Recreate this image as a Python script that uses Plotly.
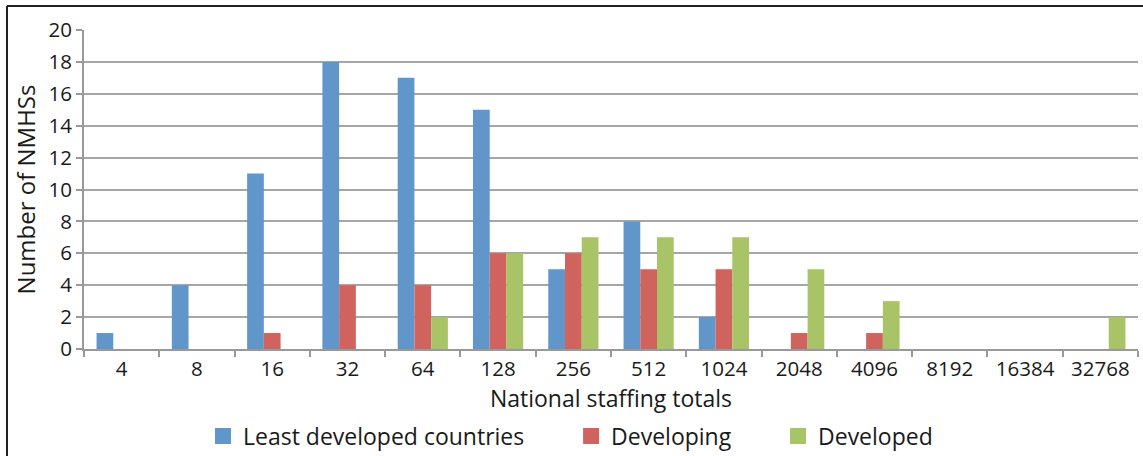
import plotly.graph_objects as go

categories = ["4", "8", "16", "32", "64", "128", "256", "512", "1024", "2048", "4096", "8192", "16384", "32768"]
least_developed = [1, 4, 11, 18, 17, 15, 5, 8, 2, 0, 0, 0, 0, 0]
developing = [0, 0, 1, 4, 4, 6, 6, 5, 5, 1, 1, 0, 0, 0]
developed = [0, 0, 0, 0, 2, 6, 7, 7, 7, 5, 3, 0, 0, 2]

series_names = ["Least developed countries", "Developing", "Developed"]
series_values = [least_developed, developing, developed]
series_colors = ["#6196CB", "#D0635E", "#A8C467"]

PAD = "\u00a0" * 7

fig = go.Figure()
for name, vals, col in zip(series_names, series_values, series_colors):
    fig.add_trace(go.Bar(x=categories, y=vals, name=name, showlegend=False,
                         marker=dict(color=col, line=dict(width=0))))
# legend entries (larger square swatches)
for i, (name, col) in enumerate(zip(series_names, series_colors)):
    label = name + (PAD if i < len(series_names) - 1 else "")
    fig.add_trace(go.Scatter(x=[None], y=[None], mode="markers", name=label,
                             marker=dict(symbol="square", size=22, color=col, line=dict(width=0))))

font_family = "Open Sans, Noto Sans, sans-serif"
L, R, T, B = 84, 5, 30, 107
W, H = 1143, 456
pw = W - L - R
ph = H - T - B

fig.update_layout(
    width=W, height=H,
    margin=dict(l=L, r=R, t=T, b=B, autoexpand=False),
    paper_bgcolor="white", plot_bgcolor="white",
    barmode="group", bargap=1/3, bargroupgap=0,
    font=dict(family=font_family, size=20, color="#1a1a1a"),
    xaxis=dict(
        type="category", automargin=False,
        title=dict(text="National staffing totals", font=dict(size=23), standoff=9),
        showline=True, linecolor="#999999", linewidth=2,
        ticks="outside", tickson="boundaries", ticklen=6, tickcolor="#999999", tickwidth=2,
        tickfont=dict(size=20.5),
        showgrid=False,
    ),
    yaxis=dict(
        range=[0, 20], dtick=2, automargin=False,
        title=dict(text="Number of NMHSs", font=dict(size=24), standoff=6),
        showline=True, linecolor="#999999", linewidth=2,
        ticks="outside", ticklen=6, tickcolor="#999999", tickwidth=2,
        showgrid=True, gridcolor="#A6A6A6", gridwidth=2,
        tickfont=dict(size=20.5),
        zeroline=False,
    ),
    legend=dict(
        orientation="h", x=(203 - L) / pw, xanchor="left",
        y=(349 - 436) / ph, yanchor="middle",
        font=dict(size=23), itemsizing="trace",
    ),
    showlegend=True,
)

# frame lines (left and top)
x_left = (7 - L) / pw
y_top = 1 + (T - 6) / ph
y_bot = 1 - (H - T + 5) / ph
fig.add_shape(type="line", xref="paper", yref="paper", x0=x_left, x1=x_left, y0=y_top, y1=y_bot,
              line=dict(color="#222222", width=2))
fig.add_shape(type="line", xref="paper", yref="paper", x0=x_left, x1=1 + (R + 5) / pw, y0=y_top, y1=y_top,
              line=dict(color="#222222", width=2))

fig.write_html("out.html", config={"displayModeBar": False},
               post_script="document.body.style.margin='0';document.body.style.overflow='hidden';")
